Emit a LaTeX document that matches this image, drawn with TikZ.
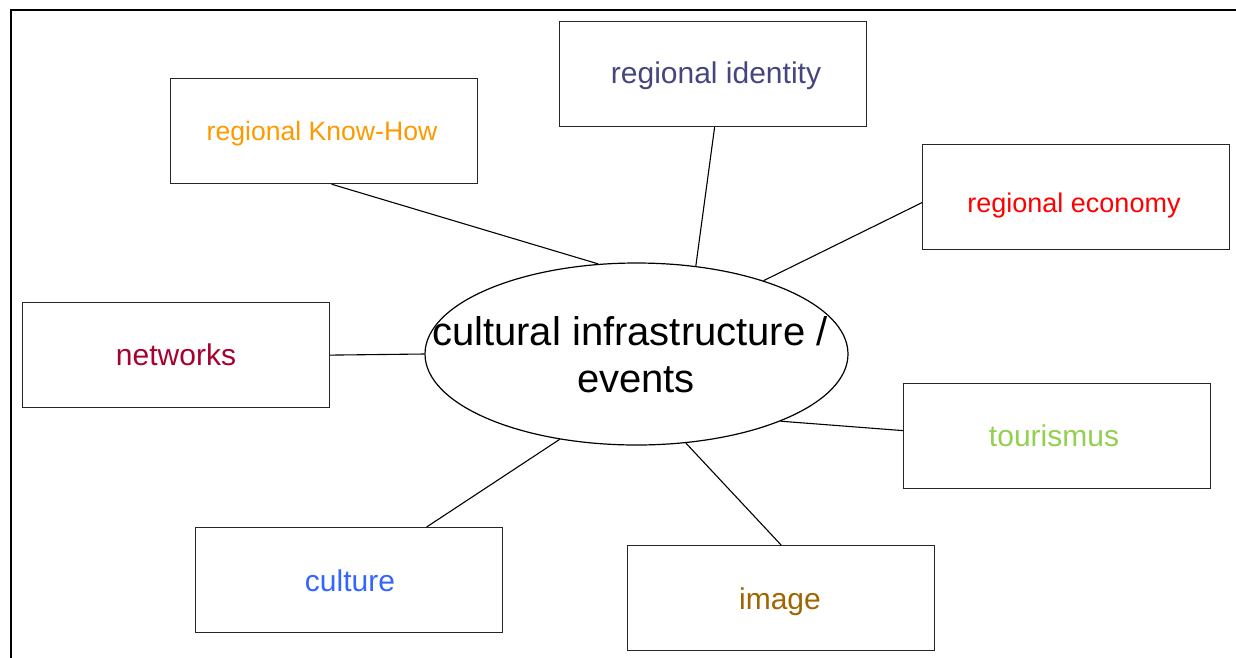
\documentclass[tikz,border=0pt]{standalone}
\usepackage{fontspec}
\setmainfont{Liberation Sans}
\usetikzlibrary{shapes.geometric}
\definecolor{cKH}{HTML}{FF9900}
\definecolor{cID}{HTML}{46467E}
\definecolor{cEC}{HTML}{FF0000}
\definecolor{cNW}{HTML}{A8002F}
\definecolor{cTO}{HTML}{92D050}
\definecolor{cCU}{HTML}{3366FF}
\definecolor{cIM}{HTML}{A06400}
\tikzset{
  topic/.style={draw=black!85, line width=1.2pt, minimum width=307pt, minimum height=105pt, inner sep=0pt, anchor=north west},
  hub/.style={draw, ellipse, line width=1.2pt, minimum width=423pt, minimum height=182pt, inner sep=0pt},
  link/.style={line width=1.1pt},
  frameline/.style={line width=2.2pt},
  big/.style={font=\fontsize{30}{34}\selectfont},
  mid/.style={font=\fontsize{27}{30}\selectfont},
  huge/.style={font=\fontsize{40}{49}\selectfont}
}
\begin{document}
\begin{tikzpicture}[x=1pt,y=-1pt]
\useasboundingbox (0,0) rectangle (1236,657);
\draw[frameline] (11,660) -- (11,10) -- (1240,10);
\node[topic] (kh) at (170,78) {};
\node[mid, text=cKH, font=\fontsize{26.6}{30}\selectfont] (khl) at (322,134) {regional Know-How};
\node[topic] (id) at (559,21) {};
\node[big, text=cID] (idl) at (716,76) {regional identity};
\node[topic] (ec) at (922,144) {};
\node[mid, text=cEC] (ecl) at (1074,206) {regional economy};
\node[topic] (nw) at (22,302) {};
\node[big, text=cNW] (nwl) at (176,355) {networks};
\node[topic] (to) at (903,383) {};
\node[big, text=cTO] (tol) at (1054,436) {tourismus};
\node[topic] (cu) at (195,527) {};
\node[big, text=cCU] (cul) at (350,581) {culture};
\node[topic] (im) at (627,545) {};
\node[big, text=cIM] (iml) at (780,602) {image};
\node[hub] (hub) at (636.5,354) {};
\node[huge] (hubl1) at (630,331) {cultural infrastructure /};
\node[huge] (hubl2) at (636,380) {events};
\draw[link] ([xshift=7.5pt]kh.south) -- (hub.113.3);
\draw[link] ([xshift=1.5pt]id.south) -- (hub.56.7);
\draw[link] ([yshift=-5.5pt]ec.west) -- (hub.30.3);
\draw[link] (nw.east) -- (hub.west);
\draw[link] ([yshift=5.5pt]to.west) -- (hub.-25);
\draw[link] ([xshift=77.5pt]cu.north) -- (hub.228);
\draw[link] (im.north) -- (hub.-61.8);
\end{tikzpicture}
\end{document}
